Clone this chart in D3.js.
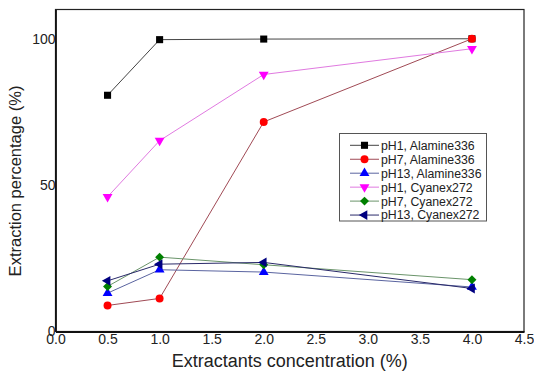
<!DOCTYPE html>
<html>
<head>
<meta charset="utf-8">
<script src="https://cdn.jsdelivr.net/npm/d3@7"></script>
<style>
  body { margin: 0; background: #fff; }
  text { font-family: "Liberation Sans", Arial, sans-serif; }
</style>
</head>
<body>
<div id="chart"></div>
<script>
// x values (extractant concentration, %)
const concentrations = [0.5, 1.0, 2.0, 4.0];

// series names and values (extraction %)
const seriesNames = [
  "pH1, Alamine336",
  "pH7, Alamine336",
  "pH13, Alamine336",
  "pH1, Cyanex272",
  "pH7, Cyanex272",
  "pH13, Cyanex272",
];
const pH1Alamine = [80.7, 99.7, 99.9, 100];
const pH7Alamine = [8.9, 11.3, 71.6, 100];
const pH13Alamine = [13.1, 21.1, 20.3, 15.2];
const pH1Cyanex = [46.0, 65.2, 87.8, 96.6];
const pH7Cyanex = [15.4, 25.4, 22.8, 17.7];
const pH13Cyanex = [17.3, 23.0, 23.6, 14.7];
const seriesValues = [pH1Alamine, pH7Alamine, pH13Alamine, pH1Cyanex, pH7Cyanex, pH13Cyanex];

const xTicks = [0, 0.5, 1, 1.5, 2, 2.5, 3, 3.5, 4, 4.5];
const yTicks = [0, 50, 100];

// styles
const markerColors = ["#000000", "#ff0000", "#0000ff", "#ff00ff", "#008000", "#000080"];
const lineColors = ["#444444", "#a04a55", "#5a64a0", "#e07ae0", "#6a946a", "#2a2a6a"];
const symbols = [
  { type: d3.symbolSquare, size: 50, rotate: 0 },
  { type: d3.symbolCircle, size: 50, rotate: 0 },
  { type: d3.symbolTriangle, size: 42, rotate: 0 },
  { type: d3.symbolTriangle, size: 42, rotate: 180 },
  { type: d3.symbolSquare, size: 40, rotate: 45 },
  { type: d3.symbolTriangle, size: 42, rotate: -90 },
];

const width = 534, height = 372;
const margin = { top: 9.5, right: 10, bottom: 40.5, left: 55.5 };
const innerW = width - margin.left - margin.right;
const innerH = height - margin.top - margin.bottom;

const svg = d3.select("#chart")
  .append("svg")
  .attr("width", width)
  .attr("height", height);

const g = svg.append("g")
  .attr("transform", `translate(${margin.left},${margin.top})`);

const xScale = d3.scaleLinear().domain([0, 4.5]).range([0, innerW]);
const yScale = d3.scaleLinear().domain([0, 110]).range([innerH, 0]);

// frame: top/right thin, left/bottom heavier
g.append("rect")
  .attr("width", innerW)
  .attr("height", innerH)
  .attr("fill", "none")
  .attr("stroke", "#222")
  .attr("stroke-width", 1.2);

// axes (no tick marks)
const xAxis = d3.axisBottom(xScale)
  .tickValues(xTicks)
  .tickSize(0)
  .tickPadding(3)
  .tickFormat(d3.format(".1f"));

const yAxis = d3.axisLeft(yScale)
  .tickValues(yTicks)
  .tickSize(0)
  .tickPadding(0)
  .tickFormat(d3.format("d"));

const gx = g.append("g")
  .attr("transform", `translate(0,${innerH})`)
  .call(xAxis);
const gy = g.append("g").call(yAxis);

[gx, gy].forEach((ax) => {
  ax.select(".domain").attr("stroke", "#111").attr("stroke-width", 1.8);
  ax.selectAll("text")
    .attr("fill", "#222")
    .style("font-size", "14px");
});

// series lines + markers
seriesValues.forEach((vals, i) => {
  const pts = concentrations.map((c, j) => ({ x: c, y: vals[j] }));
  const line = d3.line().x((d) => xScale(d.x)).y((d) => yScale(d.y));

  g.append("path")
    .datum(pts)
    .attr("d", line)
    .attr("fill", "none")
    .attr("stroke", lineColors[i])
    .attr("stroke-width", 1);

  const sym = symbols[i];
  g.selectAll(`.m${i}`)
    .data(pts)
    .enter()
    .append("path")
    .attr("class", `m${i}`)
    .attr("d", d3.symbol().type(sym.type).size(sym.size))
    .attr("transform", (d) =>
      `translate(${xScale(d.x)},${yScale(d.y)}) rotate(${sym.rotate})`)
    .attr("fill", markerColors[i]);
});

// axis titles
svg.append("text")
  .attr("x", margin.left + innerW / 2)
  .attr("y", 366.5)
  .attr("text-anchor", "middle")
  .attr("fill", "#222")
  .style("font-size", "18px")
  .text("Extractants concentration (%)");

svg.append("text")
  .attr("transform", "translate(21,181) rotate(-90)")
  .attr("text-anchor", "middle")
  .attr("fill", "#222")
  .style("font-size", "16.5px")
  .text("Extraction percentage (%)");

// legend
const legend = svg.append("g").attr("transform", "translate(339.5,133.5)");
legend.append("rect")
  .attr("width", 147)
  .attr("height", 87.5)
  .attr("fill", "#fff")
  .attr("stroke", "#555")
  .attr("stroke-width", 1);

const rows = legend.selectAll(".row")
  .data(seriesNames)
  .enter()
  .append("g")
  .attr("class", "row")
  .attr("transform", (d, i) => `translate(0,${11.8 + i * 13.95})`);

rows.append("line")
  .attr("x1", 10.5)
  .attr("x2", 39.5)
  .attr("stroke", (d, i) => lineColors[i])
  .attr("stroke-width", 1);

rows.append("path")
  .attr("d", (d, i) => d3.symbol().type(symbols[i].type).size(symbols[i].size)())
  .attr("transform", (d, i) => `translate(25,0) rotate(${symbols[i].rotate})`)
  .attr("fill", (d, i) => markerColors[i]);

rows.append("text")
  .attr("x", 41.5)
  .attr("dy", "0.36em")
  .attr("fill", "#222")
  .style("font-size", "12.3px")
  .text((d) => d);
</script>
</body>
</html>
